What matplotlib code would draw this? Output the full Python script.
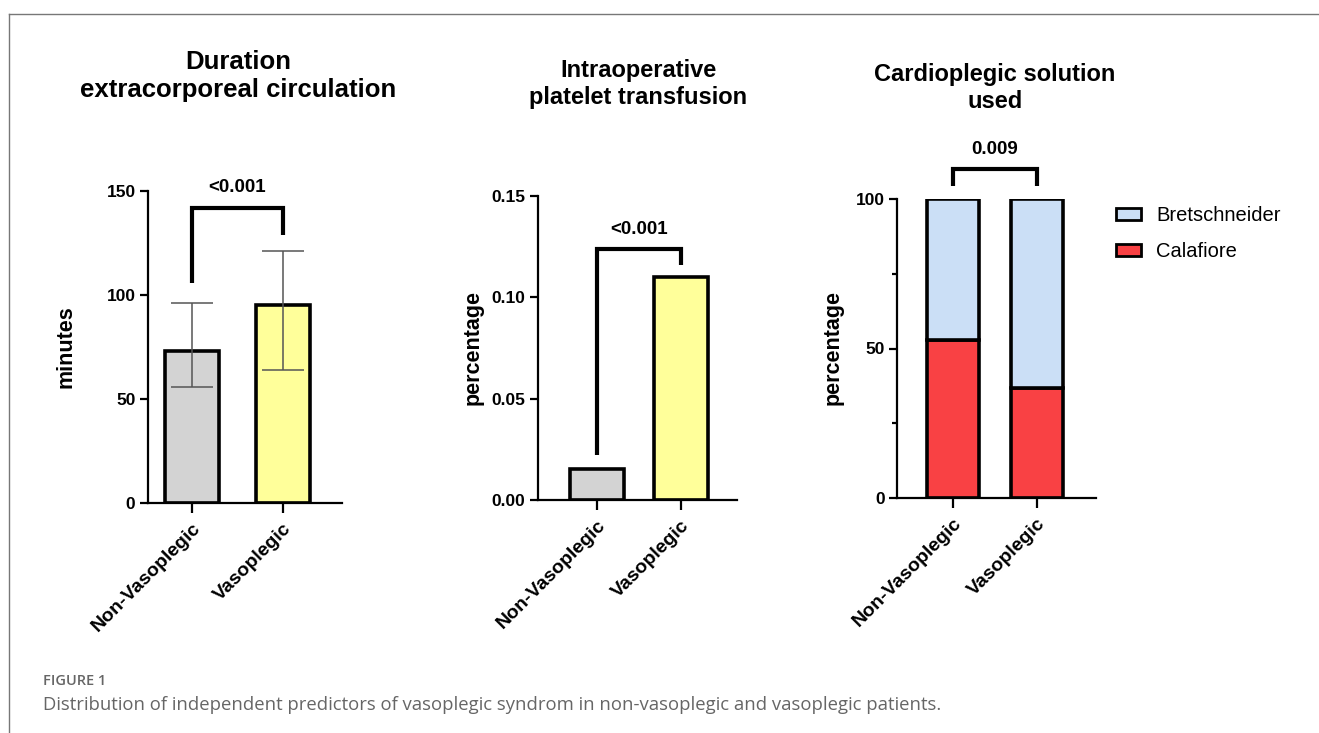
import numpy as np
import matplotlib.pyplot as plt
from matplotlib.lines import Line2D
from matplotlib.patches import Patch

plt.rcParams['font.family'] = ['Liberation Sans', 'DejaVu Sans']

# data
groups = ['Non-Vasoplegic', 'Vasoplegic']

ecc_minutes = [73, 95]
ecc_lower = [56, 64]
ecc_upper = [96, 121]
ecc_p = '<0.001'

platelet_pct = [0.0153, 0.110]
platelet_p = '<0.001'

calafiore = [53, 36.7]
bretschneider = [47, 63.3]
cardio_p = '0.009'

bar_colors = ['#D3D3D3', '#FFFF9A']
cala_color = '#F94144'
bret_color = '#CBDFF6'

W, H = 1319, 733
fig = plt.figure(figsize=(W / 100, H / 100), dpi=100)


def px_axes(x0, y0, x1, y1):
    # pixel box (top-left origin) -> figure axes
    return fig.add_axes([x0 / W, 1 - y1 / H, (x1 - x0) / W, (y1 - y0) / H])


def px(x, y):
    return x / W, 1 - y / H


def style(ax):
    for s in ['top', 'right']:
        ax.spines[s].set_visible(False)
    for s in ['left', 'bottom']:
        ax.spines[s].set_linewidth(1.6)
    ax.tick_params(axis='y', length=6, width=1.6, labelsize=12.5, pad=3)
    ax.tick_params(axis='x', length=7, width=1.6, labelsize=14, pad=5)
    ax.set_xticks([0, 1])
    ax.set_xticklabels(groups, rotation=45, ha='right', rotation_mode='anchor', fontweight='bold')
    for t in ax.get_yticklabels():
        t.set_fontweight('bold')


def bracket(ax, top, left, right, text, ty):
    ax.plot([0, 0, 1, 1], [left, top, top, right], color='black', lw=3,
            solid_capstyle='butt', solid_joinstyle='miter', clip_on=False)
    ax.text(0.5, ty, text, ha='center', va='center', fontsize=13.5, fontweight='bold')


x = np.arange(len(groups))

# panel 1
ax1 = px_axes(148, 191, 342, 503)
ax1.bar(x, ecc_minutes, width=0.6, color=bar_colors, edgecolor='black', linewidth=2.6)
yerr = [np.array(ecc_minutes) - np.array(ecc_lower), np.array(ecc_upper) - np.array(ecc_minutes)]
ax1.errorbar(x, ecc_minutes, yerr=yerr, fmt='none', ecolor='#555555', elinewidth=1.1, capsize=15, capthick=1.1)
ax1.set_xlim(-0.4835, 1.648)
ax1.set_ylim(0, 150)
ax1.set_yticks([0, 50, 100, 150])
style(ax1)
bracket(ax1, 142, 106, 129, ecc_p, 151.5)

# panel 2
ax2 = px_axes(538, 196, 737, 500)
ax2.bar(x, platelet_pct, width=0.64, color=bar_colors, edgecolor='black', linewidth=2.6)
ax2.set_xlim(-0.702, 1.667)
ax2.set_ylim(0, 0.15)
ax2.set_yticks([0, 0.05, 0.10, 0.15])
ax2.set_yticklabels(['0.00', '0.05', '0.10', '0.15'])
style(ax2)
bracket(ax2, 0.124, 0.022, 0.116, platelet_p, 0.1335)

# panel 3
ax3 = px_axes(897, 199, 1096, 498)
ax3.bar(x, calafiore, width=0.62, color=cala_color, edgecolor='black', linewidth=2.6, label='Calafiore')
ax3.bar(x, bretschneider, bottom=calafiore, width=0.62, color=bret_color, edgecolor='black',
        linewidth=2.6, label='Bretschneider')
ax3.set_xlim(-0.667, 1.70)
ax3.set_ylim(0, 100)
ax3.set_yticks([0, 50, 100])
ax3.set_yticks([25, 75], minor=True)
ax3.tick_params(axis='y', which='minor', length=3.5, width=1.6)
style(ax3)
bracket(ax3, 110, 104.5, 104.5, cardio_p, 116.5)

handles = [Patch(facecolor=bret_color, edgecolor='black', linewidth=2),
           Patch(facecolor=cala_color, edgecolor='black', linewidth=2)]
fig.legend(handles, ['Bretschneider', 'Calafiore'], loc='upper left',
           bbox_to_anchor=px(1116, 206), frameon=False, fontsize=14.5,
           handlelength=1.25, handleheight=0.6, handletextpad=0.75, labelspacing=0.85,
           borderaxespad=0, borderpad=0)

# titles
fig.text(*px(238, 76), 'Duration\nextracorporeal circulation', ha='center', va='center',
         fontsize=18.5, fontweight='bold', linespacing=1.2)
fig.text(*px(638, 84), 'Intraoperative\nplatelet transfusion', ha='center', va='center',
         fontsize=17, fontweight='bold', linespacing=1.25)
fig.text(*px(995, 88), 'Cardioplegic solution\nused', ha='center', va='center',
         fontsize=17, fontweight='bold', linespacing=1.25)

# y labels
fig.text(*px(66, 347), 'minutes', rotation=90, ha='center', va='center', fontsize=15.5, fontweight='bold')
fig.text(*px(473, 347), 'percentage', rotation=90, ha='center', va='center', fontsize=15.5, fontweight='bold')
fig.text(*px(833, 347), 'percentage', rotation=90, ha='center', va='center', fontsize=15.5, fontweight='bold')

# caption and frame
fig.text(*px(43, 681), 'FIGURE 1', ha='left', va='center', fontsize=10.5, color='#666666',
         fontweight='semibold', family=['Open Sans', 'DejaVu Sans'])
fig.text(*px(43, 705), 'Distribution of independent predictors of vasoplegic syndrom in '
         'non-vasoplegic and vasoplegic patients.', ha='left', va='center', fontsize=13.3,
         color='#666666', family=['Open Sans', 'DejaVu Sans'])
fig.add_artist(Line2D([9 / W, 1], [1 - 14 / H, 1 - 14 / H], color='#777777', lw=1))
fig.add_artist(Line2D([9 / W, 9 / W], [0, 1 - 14 / H], color='#777777', lw=1))

fig.savefig('out.png', dpi=100)
